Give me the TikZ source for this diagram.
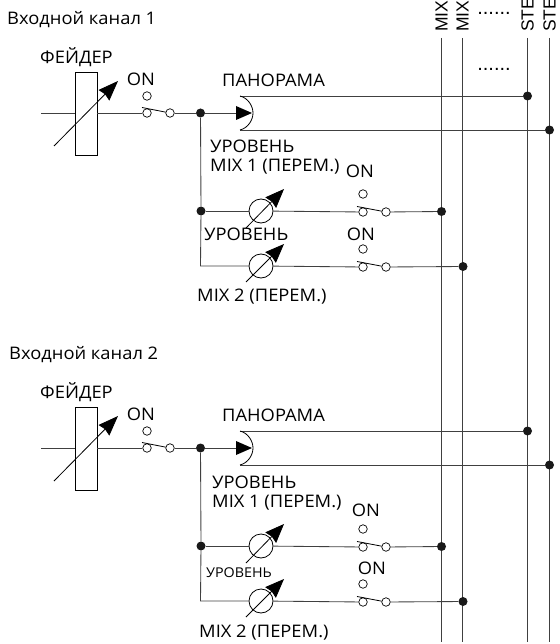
\documentclass[tikz,border=0pt]{standalone}
\usepackage{fontspec}
\setmainfont[FakeStretch=1.06]{Open Sans}
\newfontfamily\busfont{Liberation Sans}
\usetikzlibrary{arrows.meta}
\definecolor{wire}{HTML}{404040}
\tikzset{
  x=1pt,y=-1pt,
  wireline/.style={draw=wire,line width=0.85pt},
  thin wire/.style={draw=black,line width=0.8pt},
  junction/.style={circle,fill=black!90,inner sep=0pt,minimum size=9pt},
  contact/.style={circle,draw=black,fill=white,line width=0.7pt,inner sep=0pt,minimum size=8.5pt},
  levelpot/.style={circle,draw=black,fill=white,line width=0.8pt,inner sep=0pt,minimum size=24pt},
  faderbox/.style={rectangle,draw=black,fill=white,line width=0.8pt,inner sep=0pt,minimum width=22pt,minimum height=83pt},
  adjust/.style={draw=black,line width=0.8pt,-{Stealth[inset=1.5pt,length=20pt,width=15pt]}},
  lab/.style={inner sep=0pt,anchor=west,font=\fontsize{17.3}{19}\selectfont},
  buslab/.style={inner sep=0pt,anchor=west,rotate=90,font=\busfont\fontsize{17.5}{18}\selectfont},
}
\begin{document}
\begin{tikzpicture}
\useasboundingbox (0,0) rectangle (559,644);
% buses
\foreach \n/\x/\t in {a/441.5/MIX,b/462.5/MIX,c/527.5/STE,d/549.5/STE}{
  \coordinate (bus\n top) at (\x,38);
  \coordinate (bus\n bot) at (\x,642);
  \draw[wireline] (bus\n top) -- (bus\n bot);
  \node[buslab] (buslab\n) at (\x,32) {\t};
}
\node[inner sep=0pt,font=\busfont\fontsize{20}{20}\selectfont] (dotsA) at (494,13) {......};
\node[inner sep=0pt,font=\busfont\fontsize{20}{20}\selectfont] (dotsB) at (494,69) {......};
% channels
\foreach \c/\dy in {p/0,q/335}{
\begin{scope}[yshift=-\dy pt]
  \coordinate (in\c) at (41,113);
  \node[faderbox] (fader\c) at (86,114) {};
  \node[contact] (swl\c) at (147,113) {};
  \node[contact] (swr\c) at (170,113) {};
  \node[contact] (swt\c) at (147,96) {};
  \coordinate (arm\c) at (142,107.5);
  \node[junction] (j\c) at (200.5,113) {};
  \coordinate (pant\c) at (240,96);
  \coordinate (panb\c) at (240,130);
  \coordinate (pani\c) at (236,113);
  \node[junction] (outa\c) at (527.5,96) {};
  \node[junction] (outb\c) at (549.5,130) {};
  \draw[wireline] (in\c) -- (fader\c.west |- in\c);
  \draw[wireline] (fader\c.east |- swl\c) -- (swl\c);
  \draw[wireline] (swr\c) -- (j\c);
  \draw[wireline] (j\c) -- (pani\c);
  \draw[wireline] (pant\c) -- (outa\c);
  \draw[wireline] (panb\c) -- (outb\c);
  \draw[thin wire] (arm\c) -- (swr\c);
  \fill[black] (236,106) -- (252,113) -- (236,120) -- cycle;
  \draw[thin wire] (pant\c) .. controls (248,98) and (253,106) .. (253,113) .. controls (253,120) and (248,128) .. (panb\c);
  \coordinate (fs\c) at (54,146);
  \coordinate (fe\c) at (118,81);
  \draw[adjust] (fs\c) -- (fe\c);
  % level rows
  \node[junction] (r\c) at (201,211) {};
  \coordinate (c\c) at (200.5,266);
  \node[levelpot] (pa\c) at (261,211) {};
  \node[levelpot] (pb\c) at (261,266) {};
  \node[contact] (sal\c) at (363,212) {};
  \node[contact] (sar\c) at (386,212) {};
  \node[contact] (sat\c) at (363,194) {};
  \node[contact] (sbl\c) at (363,267) {};
  \node[contact] (sbr\c) at (386,267) {};
  \node[contact] (sbt\c) at (363,249) {};
  \coordinate (arma\c) at (357,206.5);
  \coordinate (armb\c) at (357,261.5);
  \node[junction] (da\c) at (441.5,211.5) {};
  \node[junction] (db\c) at (463,266.5) {};
  \draw[wireline] (j\c) -- (r\c) -- (c\c) -- (pb\c);
  \draw[wireline] (r\c) -- (pa\c);
  \draw[wireline] (pa\c) -- (sal\c);
  \draw[wireline] (pb\c) -- (sbl\c);
  \draw[wireline] (sar\c) -- (da\c);
  \draw[wireline] (sbr\c) -- (db\c);
  \draw[thin wire] (arma\c) -- (sar\c);
  \draw[thin wire] (armb\c) -- (sbr\c);
  \coordinate (as\c) at (246,228);
  \coordinate (ae\c) at (284,189);
  \coordinate (bs\c) at (246,282);
  \coordinate (be\c) at (284,244);
  \draw[adjust,-{Stealth[inset=1.5pt,length=19pt,width=15pt]}] (as\c) -- (ae\c);
  \draw[adjust,-{Stealth[inset=1.5pt,length=19pt,width=15pt]}] (bs\c) -- (be\c);
  \node[lab] (pan\c) at (222,80) {ПАНОРАМА};
  \node[lab] (fl\c) at (40,57) {ФЕЙДЕР};
  \node[lab,anchor=center] (on\c) at (141,79) {ON};
\end{scope}
}
% channel 1 texts
\node[lab] (t1) at (7,20) {Входной канал 1};
\node[lab] (u1) at (210,146) {УРОВЕНЬ};
\node[lab] (m1) at (210,167) {MIX 1 (ПЕРЕМ.)};
\node[lab,anchor=center] (o1) at (360,171) {ON};
\node[lab] (u2) at (204,234) {УРОВЕНЬ};
\node[lab,anchor=center] (o2) at (361,234) {ON};
\node[lab] (m2) at (197,297) {MIX 2 (ПЕРЕМ.)};
% channel 2 texts
\node[lab] (t2) at (9,355) {Входной канал 2};
\node[lab] (u3) at (212,482) {УРОВЕНЬ};
\node[lab] (m3) at (212,503) {MIX 1 (ПЕРЕМ.)};
\node[lab,anchor=center] (o3) at (366,510) {ON};
\node[lab,font=\fontsize{13.5}{15}\selectfont] (u4) at (206,573) {УРОВЕНЬ};
\node[lab,anchor=center] (o4) at (372,568) {ON};
\node[lab] (m4) at (199,633) {MIX 2 (ПЕРЕМ.)};
\end{tikzpicture}
\end{document}
